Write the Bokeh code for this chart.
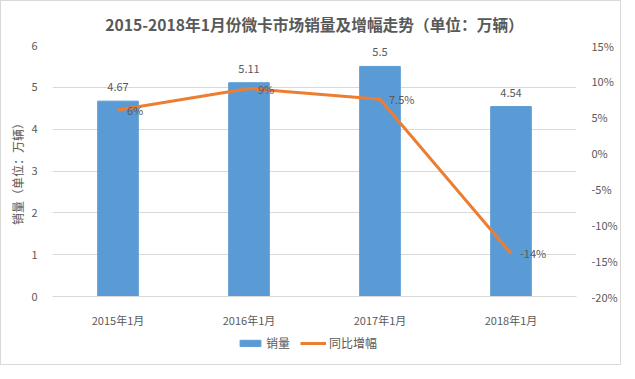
from bokeh.plotting import figure
from bokeh.layouts import column
from bokeh.models import (Range1d, LinearAxis, FixedTicker, PrintfTickFormatter,
                          Legend, LegendItem, ColumnDataSource)
from bokeh.core.properties import value
from bokeh.embed import file_html
from bokeh.resources import INLINE

categories = ["2015年1月", "2016年1月", "2017年1月", "2018年1月"]
sales = [4.67, 5.11, 5.5, 4.54]
growth = [6, 9, 7.5, -14]
sales_labels = ["4.67", "5.11", "5.5", "4.54"]
growth_labels = ["6%", "9%", "7.5%", "-14%"]
left_ticks = [0, 1, 2, 3, 4, 5, 6]
right_ticks = [-20, -15, -10, -5, 0, 5, 10, 15]

FONT = "Noto Sans CJK SC"
GRAY = "#595959"
GRID = "#D9D9D9"
BLUE = "#5B9BD5"
ORANGE = "#ED7D31"

src = ColumnDataSource(dict(cat=categories, sales=sales, growth=growth,
                            sl=sales_labels, gl=growth_labels))

p = figure(x_range=categories, y_range=Range1d(0, 6),
           width=619, height=329,
           output_backend="svg", toolbar_location=None,
           title="2015-2018年1月份微卡市场销量及增幅走势（单位：万辆）",
           min_border_left=51, min_border_right=39, min_border_top=42, min_border_bottom=30)
p.outline_line_color = None
p.background_fill_color = "white"
p.border_fill_color = "white"

p.title.align = "center"
p.title.text_font = FONT
p.title.text_font_size = "15.7px"
p.title.text_font_style = "bold"
p.title.text_color = GRAY
p.title.standoff = 19

p.extra_y_ranges = {"pct": Range1d(-20, 15)}

p.vbar(x="cat", top="sales", width=0.31, source=src, color=BLUE)
p.line(x="cat", y="growth", source=src, y_range_name="pct",
       line_color=ORANGE, line_width=3)

p.text(x="cat", y="sales", text="sl", source=src, text_align="center",
       text_baseline="middle", y_offset=-14, text_font=value(FONT),
       text_font_size="11px", text_color=GRAY)
p.text(x="cat", y="growth", text="gl", source=src, y_range_name="pct",
       text_align="left", text_baseline="middle", x_offset=9,
       text_font=value(FONT), text_font_size="11px", text_color=GRAY)

# left axis
ya = p.yaxis[0]
ya.ticker = FixedTicker(ticks=left_ticks)
ya.axis_line_color = None
ya.major_tick_line_color = None
ya.minor_tick_line_color = None
ya.major_label_text_font = FONT
ya.major_label_text_font_size = "11px"
ya.major_label_text_color = GRAY
ya.major_label_standoff = 9
ya.axis_label = "销量（单位：万辆）"
ya.axis_label_text_font = FONT
ya.axis_label_text_font_size = "12px"
ya.axis_label_text_font_style = "normal"
ya.axis_label_text_color = GRAY
ya.axis_label_standoff = 2

ra = LinearAxis(y_range_name="pct", ticker=FixedTicker(ticks=right_ticks),
                formatter=PrintfTickFormatter(format="%d%%"))
ra.axis_line_color = None
ra.major_tick_line_color = None
ra.minor_tick_line_color = None
ra.major_label_text_font = FONT
ra.major_label_text_font_size = "11px"
ra.major_label_text_color = GRAY
ra.major_label_standoff = 9
p.add_layout(ra, "right")

xa = p.xaxis[0]
xa.axis_line_color = GRID
xa.major_tick_line_color = None
xa.minor_tick_line_color = None
xa.major_label_text_font = FONT
xa.major_label_text_font_size = "11px"
xa.major_label_text_color = GRAY
xa.major_label_standoff = 9

p.xgrid.grid_line_color = None
p.ygrid.grid_line_color = GRID
p.ygrid.ticker = FixedTicker(ticks=left_ticks)

# legend strip (separate figure without axes; glyphs drawn out of its visible range)
lg = figure(x_range=categories, y_range=Range1d(100, 101), width=619, height=34,
            output_backend="svg", toolbar_location=None,
            x_axis_location=None, y_axis_location=None,
            min_border_left=0, min_border_right=0, min_border_top=0, min_border_bottom=0)
lg.grid.grid_line_color = None
lg.outline_line_color = None
lg_bars = lg.vbar(x="cat", top="sales", width=0.31, source=src, color=BLUE)
lg_line = lg.line(x="cat", y="growth", source=src, line_color=ORANGE, line_width=3)

common = dict(orientation="horizontal", label_text_font=FONT,
              label_text_font_size="12px", label_text_color=GRAY,
              glyph_width=26, glyph_height=8, label_height=14, label_standoff=3,
              border_line_color=None, background_fill_alpha=0, padding=0, margin=0)
leg1 = Legend(items=[LegendItem(label="销量", renderers=[lg_bars])],
              location=(185, 13), **common)
leg2 = Legend(items=[LegendItem(label="同比增幅", renderers=[lg_line])],
              location=(248, 13), **common)
lg.add_layout(leg1, "center")
lg.add_layout(leg2, "center")

layout = column(p, lg, spacing=0)
layout.styles = {"border": "1px solid #D9D9D9"}

open("out.html", "w").write(file_html(layout, INLINE))
